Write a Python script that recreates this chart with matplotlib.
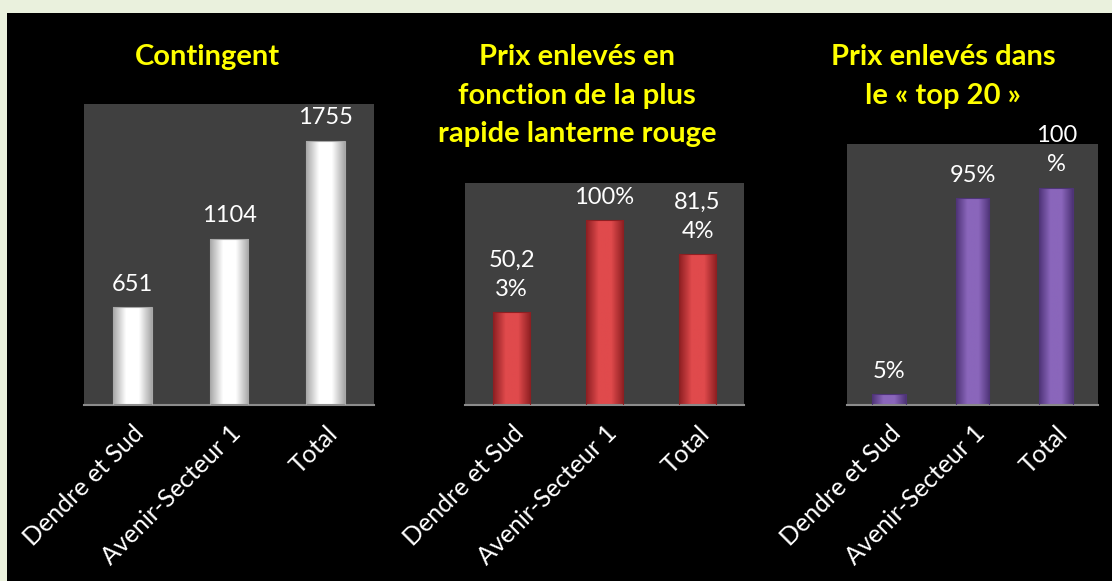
import numpy as np
import matplotlib.pyplot as plt
from matplotlib.patches import Rectangle
from matplotlib.colors import LinearSegmentedColormap

plt.rcParams['font.family'] = ['Lato', 'DejaVu Sans']

categories = ["Dendre et Sud", "Avenir-Secteur 1", "Total"]

contingent = [651, 1104, 1755]
contingent_labels = ["651", "1104", "1755"]

prix_lanterne = [50.23, 100, 81.54]
prix_lanterne_labels = ["50,2\n3%", "100%", "81,5\n4%"]

prix_top20 = [5, 95, 100]
prix_top20_labels = ["5%", "95%", "100\n%"]

titles = ["Contingent",
          "Prix enlevés en\nfonction de la plus\nrapide lanterne rouge",
          "Prix enlevés dans\nle « top 20 »"]

fig = plt.figure(figsize=(11.12, 5.81), dpi=100)
fig.patch.set_facecolor("#eaf1dd")
fig.patches.append(Rectangle((7 / 1112, 0), 1 - 7 / 1112, 1 - 13 / 581,
                             transform=fig.transFigure, facecolor="black",
                             edgecolor="none", zorder=-5))


def gradient_bars(ax, values, dark, light):
    cmap = LinearSegmentedColormap.from_list("g", [dark, light, light, dark])
    bars = ax.bar(range(len(values)), values, width=0.4, color="none",
                  edgecolor="none", zorder=2)
    grad = np.linspace(0, 1, 64).reshape(1, -1)
    for b in bars:
        x0, y0 = b.get_x(), b.get_y()
        w, h = b.get_width(), b.get_height()
        im = ax.imshow(grad, cmap=cmap, aspect="auto",
                       extent=(x0, x0 + w, y0, y0 + h), zorder=2)
        im.set_clip_path(b)
        ax.add_patch(Rectangle((x0, y0), w, h, facecolor="none",
                               edgecolor=dark, linewidth=0.8, zorder=3))
    return bars


def panel(rect, values, labels, ymax, dark, light, title, title_x):
    ax = fig.add_axes(rect)
    ax.set_facecolor("#404040")
    gradient_bars(ax, values, dark, light)
    ax.set_xlim(-0.5, 2.5)
    ax.set_ylim(0, ymax)
    for i, (v, lab) in enumerate(zip(values, labels)):
        ax.annotate(lab, (i, v), xytext=(0, 9), textcoords="offset points",
                    ha="center", va="bottom", color="white", fontsize=17,
                    linespacing=1.45)
    ax.set_yticks([])
    ax.set_xticks(range(len(categories)))
    ax.set_xticklabels(categories, rotation=45, ha="right",
                       rotation_mode="anchor", color="white", fontsize=18)
    ax.tick_params(axis="x", length=0, pad=12)
    for s in ["top", "left", "right"]:
        ax.spines[s].set_visible(False)
    ax.spines["bottom"].set_color("#8c8c8c")
    ax.spines["bottom"].set_linewidth(1.5)
    fig.text(title_x / 1112, 1 - 44 / 581, title, ha="center", va="top",
             color="#ffff00", fontsize=21, fontweight="bold", linespacing=1.6)
    return ax


panel([84 / 1112, 176 / 581, 290 / 1112, 301 / 581], contingent,
      contingent_labels, 2000, "#a8a8a8", "#ffffff", titles[0], 207)
panel([465 / 1112, 176 / 581, 279 / 1112, 222 / 581], prix_lanterne,
      prix_lanterne_labels, 120, "#8e1f22", "#e04a4c", titles[1], 577)
panel([847 / 1112, 176 / 581, 251 / 1112, 261 / 581], prix_top20,
      prix_top20_labels, 120, "#4f3478", "#8a66bb", titles[2], 943)

fig.savefig("out.png", dpi=100, facecolor=fig.get_facecolor())
